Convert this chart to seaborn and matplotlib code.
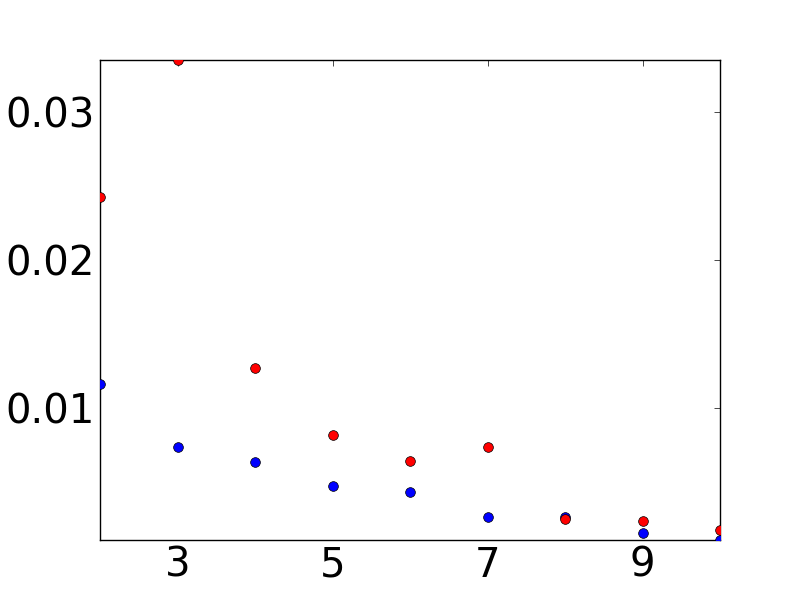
import matplotlib
matplotlib.use('AGG')
import matplotlib.pyplot as plt
import seaborn as sns
import pandas as pd

# valores
x_vals = [2, 3, 4, 5, 6, 7, 8, 9, 10]
red_vals = [0.02426, 0.0335, 0.0127, 0.00818, 0.00642, 0.00736, 0.00250, 0.00236, 0.00176]
blue_vals = [0.01162, 0.00736, 0.00635, 0.00473, 0.00432, 0.00264, 0.00264, 0.00155, 0.00108]
x_ticks = [3, 5, 7, 9]
y_ticks = [0.01, 0.02, 0.03]

sns.set_style('white')
plt.rcParams['font.family'] = ['DejaVu Sans']

fig = plt.figure(figsize=(8, 6), dpi=100)
ax = fig.add_axes([0.125, 0.1, 0.775, 0.8])

df_blue = pd.DataFrame({'x': x_vals, 'y': blue_vals})
df_red = pd.DataFrame({'x': x_vals, 'y': red_vals})

sns.scatterplot(data=df_blue, x='x', y='y', color='blue', s=49,
                edgecolor='black', linewidth=0.5, ax=ax, zorder=3)
sns.scatterplot(data=df_red, x='x', y='y', color='red', s=49,
                edgecolor='black', linewidth=0.5, ax=ax, zorder=3)

ax.set_xlim(2, 10)
ax.set_ylim(0.00108, 0.0335)
ax.set_xticks(x_ticks)
ax.set_yticks(y_ticks)
ax.set_yticklabels(['0.01', '0.02', '0.03'])
ax.set_xlabel('')
ax.set_ylabel('')

ax.tick_params(direction='in', length=4, width=0.5, color='black',
               labelcolor='black', top=True, right=True, labelsize=29, pad=4)
for sp in ax.spines.values():
    sp.set_color('black')
    sp.set_linewidth(1.0)
    sp.set_visible(True)

plt.savefig('out.png', dpi=100)
plt.close()
